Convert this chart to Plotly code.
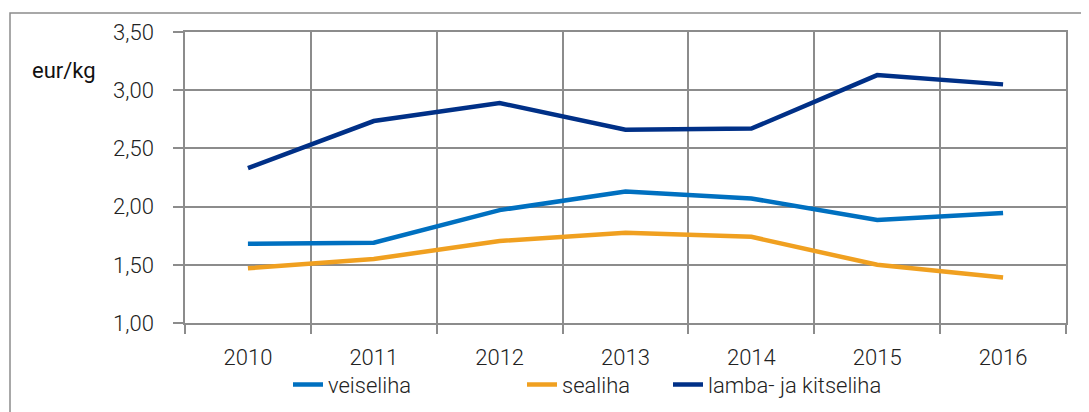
import plotly.graph_objects as go

years = ["2010", "2011", "2012", "2013", "2014", "2015", "2016"]
veiseliha = [1.68, 1.69, 1.97, 2.13, 2.07, 1.885, 1.945]
sealiha = [1.47, 1.55, 1.705, 1.775, 1.74, 1.50, 1.39]
lamba_kitseliha = [2.33, 2.735, 2.89, 2.66, 2.67, 3.13, 3.05]

FONT = "Roboto, sans-serif"
OFF = 8  # page body margin
W, H = 1089 - OFF, 412 - OFF
ML, MT = 185 - OFF, 32 - OFF
pw, ph = 881, 291
MR = W - ML - pw
MB = H - MT - ph

fig = go.Figure()
series = [
    ("veiseliha", veiseliha, "#0070c0", "legend", 334),
    ("sealiha", sealiha, "#f0a020", "legend2", 568),
    ("lamba- ja kitseliha", lamba_kitseliha, "#003087", "legend3", 714),
]
for name, vals, col, lg, _ in series:
    fig.add_trace(go.Scatter(x=years, y=vals, name=name, mode="lines",
                             line=dict(color=col, width=4.5), legend=lg))

legends = {}
for name, vals, col, lg, tx in series:
    legends[lg] = dict(x=(tx - OFF - 46 - ML) / pw, xanchor="left", y=-0.14, yanchor="top",
                       orientation="h", bgcolor="rgba(0,0,0,0)",
                       font=dict(family=FONT, size=22, color="#222", weight=300))

fig.update_layout(
    width=W, height=H,
    margin=dict(l=ML, r=MR, t=MT, b=MB, autoexpand=False),
    plot_bgcolor="white", paper_bgcolor="white",
    separators=", ",
    font=dict(family=FONT, size=22, color="#222", weight=300),
    showlegend=True,
    **legends,
)
fig.update_xaxes(type="category", range=[-0.5, 6.5], tickson="boundaries", showgrid=True,
                 gridcolor="#8c8c8c", gridwidth=1.5, ticks="outside", ticklen=9,
                 tickcolor="#8c8c8c", tickwidth=1.5, ticklabelstandoff=14,
                 showline=True, linecolor="#8c8c8c", linewidth=1.5, mirror=True,
                 automargin=False,
                 tickfont=dict(family=FONT, size=22, color="#222", weight=300))
fig.update_yaxes(range=[1, 3.5], dtick=0.5, tickformat=".2f", showgrid=True,
                 gridcolor="#8c8c8c", gridwidth=1.5, ticks="outside", ticklen=10,
                 tickcolor="#8c8c8c", tickwidth=1.5, ticklabelstandoff=15,
                 showline=True, linecolor="#8c8c8c", linewidth=1.5, mirror=True,
                 zeroline=False, automargin=False,
                 tickfont=dict(family=FONT, size=22, color="#222", weight=300))

# outer chart frame
fig.add_shape(type="rect", xref="paper", yref="paper",
              x0=(10 - 185) / pw, x1=1.2, y0=-0.6, y1=1 + (32 - 13) / ph,
              line=dict(color="#8c8c8c", width=1.5), fillcolor="rgba(0,0,0,0)",
              layer="below")
fig.add_annotation(text="eur/kg", xref="paper", yref="paper",
                   x=(30 - 185) / pw, xanchor="left", y=1 - (71 - 32) / ph, yanchor="middle",
                   showarrow=False, font=dict(family=FONT, size=22, color="#111", weight=400))

fig.write_html("out.html")
